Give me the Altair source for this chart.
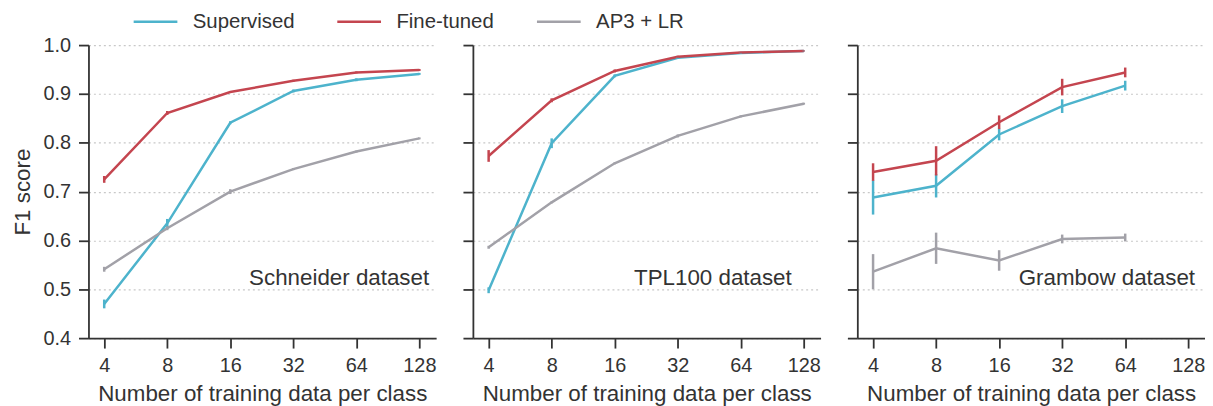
import altair as alt
import pandas as pd

n_train = [4, 8, 16, 32, 64, 128]
methods = ["Supervised", "Fine-tuned", "AP3 + LR"]
datasets = ["Schneider dataset", "TPL100 dataset", "Grambow dataset"]

# Schneider
sch_sup = [0.470, 0.635, 0.841, 0.906, 0.929, 0.941]
sch_sup_err = [0.009, 0.009, 0.003, 0.003, 0.003, 0.002]
sch_ft = [0.725, 0.861, 0.904, 0.927, 0.944, 0.949]
sch_ft_err = [0.007, 0.004, 0.002, 0.002, 0.002, 0.002]
sch_ap = [0.541, 0.625, 0.700, 0.746, 0.782, 0.809]
sch_ap_err = [0.005, 0.004, 0.005, 0.002, 0.002, 0.002]

# TPL100
tpl_sup = [0.498, 0.799, 0.937, 0.974, 0.984, 0.988]
tpl_sup_err = [0.006, 0.010, 0.003, 0.002, 0.001, 0.001]
tpl_ft = [0.773, 0.887, 0.947, 0.976, 0.985, 0.988]
tpl_ft_err = [0.012, 0.004, 0.003, 0.002, 0.001, 0.001]
tpl_ap = [0.586, 0.678, 0.758, 0.814, 0.854, 0.880]
tpl_ap_err = [0.003, 0.002, 0.002, 0.003, 0.002, 0.002]

# Grambow (no 128)
gra_n = [4, 8, 16, 32, 64]
gra_sup = [0.688, 0.712, 0.817, 0.875, 0.917]
gra_sup_err = [0.035, 0.024, 0.012, 0.014, 0.010]
gra_ft = [0.740, 0.763, 0.842, 0.914, 0.944]
gra_ft_err = [0.018, 0.030, 0.014, 0.017, 0.010]
gra_ap = [0.536, 0.584, 0.559, 0.603, 0.606]
gra_ap_err = [0.036, 0.032, 0.021, 0.009, 0.008]

colors = ["#4db3cc", "#c4454f", "#a2a1a8"]

rows = []
def add(ds, ns, vals, errs, m):
    for n, v, e in zip(ns, vals, errs):
        rows.append({"dataset": ds, "method": m, "n": n, "f1": v, "err": e})

add(datasets[0], n_train, sch_sup, sch_sup_err, methods[0])
add(datasets[0], n_train, sch_ft, sch_ft_err, methods[1])
add(datasets[0], n_train, sch_ap, sch_ap_err, methods[2])
add(datasets[1], n_train, tpl_sup, tpl_sup_err, methods[0])
add(datasets[1], n_train, tpl_ft, tpl_ft_err, methods[1])
add(datasets[1], n_train, tpl_ap, tpl_ap_err, methods[2])
add(datasets[2], gra_n, gra_sup, gra_sup_err, methods[0])
add(datasets[2], gra_n, gra_ft, gra_ft_err, methods[1])
add(datasets[2], gra_n, gra_ap, gra_ap_err, methods[2])
df = pd.DataFrame(rows)

FONT = "Liberation Sans"
TXT = "#333333"
W, H = 350, 295

color = alt.Color(
    "method:N",
    scale=alt.Scale(domain=methods, range=colors),
    legend=alt.Legend(
        title=None, orient="none", direction="horizontal",
        legendX=44, legendY=-47,
        symbolType="stroke", symbolSize=1936, symbolStrokeWidth=2.5,
        labelFontSize=20.5, labelFont=FONT, labelColor=TXT,
        labelOffset=14, columnPadding=37,
    ),
)

def panel(i, ds):
    first = i == 0
    xax = alt.Axis(
        values=n_train, title="Number of training data per class",
        grid=False, labelFlush=False, titlePadding=7,
    )
    yax = alt.Axis(
        values=[0.4, 0.5, 0.6, 0.7, 0.8, 0.9, 1.0], format=".1f",
        title="F1 score" if first else None,
        labels=first, titlePadding=9,
        grid=True, gridDash=[2, 3], gridColor="#c8c8c8", gridWidth=1.2,
    )
    base = alt.Chart(df).transform_filter(alt.datum.dataset == ds)
    x = alt.X("n:Q", scale=alt.Scale(type="log", base=2, domain=[3.364, 153.9], nice=False), axis=xax)
    y = alt.Y("f1:Q", scale=alt.Scale(domain=[0.4, 1.0], nice=False, zero=False), axis=yax)
    line = base.mark_line(strokeWidth=2.5).encode(x=x, y=y, color=color)
    err = base.transform_calculate(
        lo="datum.f1 - datum.err", hi="datum.f1 + datum.err"
    ).mark_rule(strokeWidth=2.5).encode(
        x=alt.X("n:Q"), y=alt.Y("lo:Q"), y2="hi:Q", color=alt.Color("method:N")
    )
    right = [7, 29, 10][i]
    lab = alt.Chart(pd.DataFrame({"label": [ds]})).mark_text(
        align="right", baseline="middle", fontSize=22.5, font=FONT, color=TXT
    ).encode(text="label:N", x=alt.value(W - right), y=alt.value(235))
    return alt.layer(line, err, lab).properties(width=W, height=H)

chart = alt.hconcat(
    *[panel(i, d) for i, d in enumerate(datasets)], spacing=37, bounds="flush"
).properties(
    background="white", padding={"left": 3, "top": -11, "right": 0, "bottom": 0}
).configure_axis(
    domainColor="#333333", domainWidth=1.8, tickColor="#333333", tickWidth=1.8,
    tickSize=10, labelFontSize=20, titleFontSize=22.5, labelFont=FONT, titleFont=FONT,
    labelColor=TXT, titleColor=TXT, titleFontWeight="normal", labelPadding=8,
).configure_view(stroke=None)

chart.save("out.html", embed_options={"renderer": "svg", "actions": False})
